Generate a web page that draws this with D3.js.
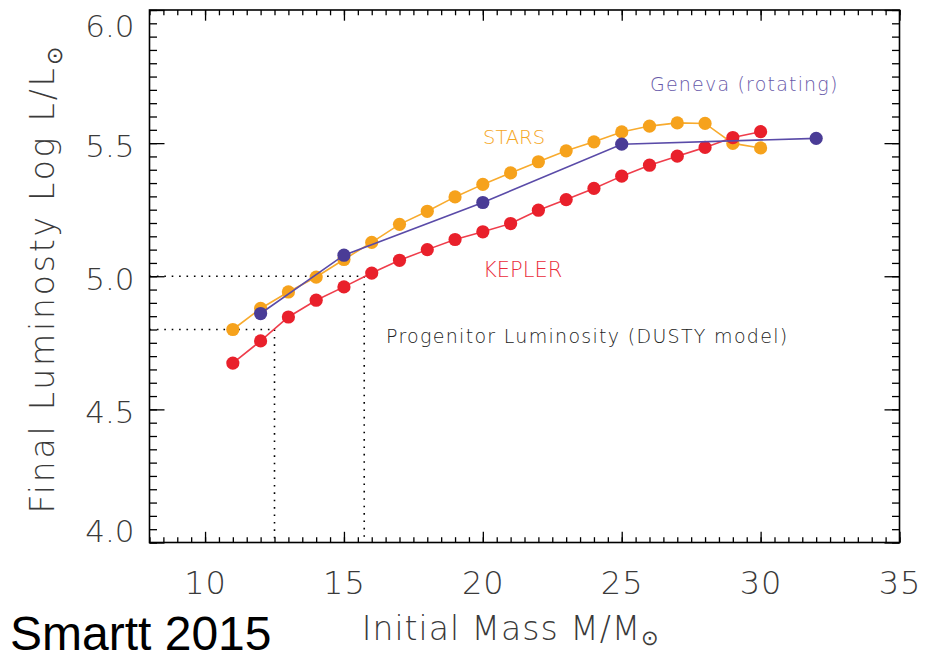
<!DOCTYPE html>
<html>
<head>
<meta charset="utf-8">
<script src="https://cdn.jsdelivr.net/npm/d3@7"></script>
<style>
  html, body { margin: 0; padding: 0; background: #fff; }
  svg { display: block; }
</style>
</head>
<body>
<svg id="chart" width="936" height="652"></svg>
<script>
// ---------- data ----------
const starsMass = [11,12,13,14,15,16,17,18,19,20,21,22,23,24,25,26,27,28,29,30];
const starsLum  = [4.800,4.879,4.941,4.997,5.063,5.127,5.195,5.244,5.298,5.345,5.388,5.430,5.471,5.505,5.542,5.564,5.576,5.574,5.499,5.482];

const keplerMass = [11,12,13,14,15,16,17,18,19,20,21,22,23,24,25,26,27,28,29,30];
const keplerLum  = [4.674,4.757,4.847,4.910,4.960,5.012,5.060,5.100,5.138,5.167,5.198,5.248,5.288,5.330,5.376,5.417,5.451,5.484,5.521,5.543];

const genevaMass = [12,15,20,25,32];
const genevaLum  = [4.860,5.079,5.277,5.496,5.518];

// progenitor luminosity guide lines (DUSTY model)
const guideLum  = [4.8, 5.0];
const guideMass = [12.5, 15.73];

const xTicks = [10,15,20,25,30,35];
const yTicks = [4.0,4.5,5.0,5.5,6.0];
const xMinor = d3.range(8, 35.001, 0.5);
const yMinor = d3.range(4.0, 6.0001, 0.05);

// ---------- layout ----------
const svg = d3.select("#chart");
const L = 149.5, R = 899.5, T = 10, B = 542.5;
const x = d3.scaleLinear().domain([8, 35]).range([L, R]);
const y = d3.scaleLinear().domain([4.0, 6.0]).range([B, T]);

const fontFam = '"DejaVu Sans", sans-serif';
const axisColor = "#000";
const textColor = "#3a3a3a";

svg.append("rect").attr("width", 936).attr("height", 652).attr("fill", "#fff");

// ---------- axes (inward ticks on all four sides) ----------
const xMajLen = 10.7, xMinLen = 5.3, yMajLen = 15, yMinLen = 7.5;

function styleAxis(g) {
  g.select(".domain").remove();
  g.selectAll(".tick line").attr("stroke", axisColor).attr("stroke-width", 1.3);
}

// bottom
svg.append("g").attr("transform", `translate(0,${B})`)
  .call(d3.axisBottom(x).tickValues(xMinor).tickSize(-xMinLen).tickFormat(""))
  .call(styleAxis);
const gxb = svg.append("g").attr("transform", `translate(0,${B})`)
  .call(d3.axisBottom(x).tickValues(xTicks).tickSize(-xMajLen).tickFormat(d3.format("d")))
  .call(styleAxis);
gxb.selectAll(".tick text")
  .attr("y", 51.5).attr("dy", null)
  .attr("font-family", fontFam).attr("font-weight", 200)
  .attr("font-size", 32).attr("letter-spacing", 1).attr("fill", textColor);

// top
svg.append("g").attr("transform", `translate(0,${T})`)
  .call(d3.axisTop(x).tickValues(xMinor).tickSize(-xMinLen).tickFormat(""))
  .call(styleAxis);
svg.append("g").attr("transform", `translate(0,${T})`)
  .call(d3.axisTop(x).tickValues(xTicks).tickSize(-xMajLen).tickFormat(""))
  .call(styleAxis);

// left
svg.append("g").attr("transform", `translate(${L},0)`)
  .call(d3.axisLeft(y).tickValues(yMinor).tickSize(-yMinLen).tickFormat(""))
  .call(styleAxis);
const gyl = svg.append("g").attr("transform", `translate(${L},0)`)
  .call(d3.axisLeft(y).tickValues(yTicks).tickSize(-yMajLen).tickFormat(d3.format(".1f")))
  .call(styleAxis);
// end labels sit inside the frame's vertical extent, as in the original
gyl.selectAll(".tick text")
  .attr("x", -15)
  .attr("y", d => (d >= 6.0 ? 15 : d <= 4.0 ? -12 : 2))
  .attr("dy", "0.36em")
  .attr("font-family", fontFam).attr("font-weight", 200)
  .attr("font-size", 31).attr("fill", textColor);

// right
svg.append("g").attr("transform", `translate(${R},0)`)
  .call(d3.axisRight(y).tickValues(yMinor).tickSize(-yMinLen).tickFormat(""))
  .call(styleAxis);
svg.append("g").attr("transform", `translate(${R},0)`)
  .call(d3.axisRight(y).tickValues(yTicks).tickSize(-yMajLen).tickFormat(""))
  .call(styleAxis);

// frame
svg.append("rect")
  .attr("x", L).attr("y", T).attr("width", R - L).attr("height", B - T)
  .attr("fill", "none").attr("stroke", axisColor).attr("stroke-width", 1.6);

// ---------- dotted guide lines ----------
const guides = svg.append("g")
  .attr("stroke", "#000").attr("stroke-width", 1.6)
  .attr("stroke-dasharray", "1.6,5.8").attr("fill", "none");
guideLum.forEach((lum, i) => {
  const m = guideMass[i];
  guides.append("line")
    .attr("x1", x(8)).attr("x2", x(m)).attr("y1", y(lum)).attr("y2", y(lum));
  guides.append("line")
    .attr("x1", x(m)).attr("x2", x(m)).attr("y1", y(lum)).attr("y2", y(4.0));
});

// ---------- series ----------
const line = d3.line().x(d => x(d[0])).y(d => y(d[1]));
function drawSeries(mass, lum, lineColor, dotColor) {
  const pts = mass.map((m, i) => [m, lum[i]]);
  svg.append("path").datum(pts)
    .attr("d", line).attr("fill", "none")
    .attr("stroke", lineColor).attr("stroke-width", 1.6);
  svg.append("g").selectAll("circle").data(pts).join("circle")
    .attr("cx", d => x(d[0])).attr("cy", d => y(d[1]))
    .attr("r", 6.6).attr("fill", dotColor);
}
drawSeries(starsMass, starsLum, "#f8ab2e", "#f6a21c");
drawSeries(keplerMass, keplerLum, "#ef3d4b", "#e9202b");
drawSeries(genevaMass, genevaLum, "#5a4ba8", "#4a3c96");

// ---------- in-plot labels ----------
function label(txt, xp, yp, size, color, spacing) {
  svg.append("text").attr("x", xp).attr("y", yp)
    .attr("font-family", fontFam).attr("font-weight", 200)
    .attr("font-size", size).attr("letter-spacing", spacing || 0)
    .attr("fill", color).text(txt);
}
label("STARS", 483, 144, 19.5, "#f5a623", 0);
label("KEPLER", 483, 277, 21, "#ea2c3b", 0);
label("Geneva (rotating)", 650, 91, 19, "#6657a8", 1.2);
label("Progenitor Luminosity (DUSTY model)", 386, 343, 19, "#222", 1.3);

// ---------- axis titles ----------
const xt = svg.append("text")
  .attr("x", 511).attr("y", 640).attr("text-anchor", "middle")
  .attr("font-family", fontFam).attr("font-weight", 200)
  .attr("font-size", 33).attr("letter-spacing", 1).attr("fill", textColor);
xt.append("tspan").text("Initial Mass M/M");
xt.append("tspan").attr("font-size", 21).attr("dy", 5).text("\u2299");

const yt = svg.append("text")
  .attr("transform", "translate(54,279) rotate(-90)")
  .attr("text-anchor", "middle")
  .attr("font-family", fontFam).attr("font-weight", 200)
  .attr("font-size", 33).attr("letter-spacing", 2.8).attr("fill", textColor);
yt.append("tspan").text("Final Luminosty Log L/L");
yt.append("tspan").attr("font-size", 22).attr("dy", 8).text("\u2299");

// ---------- citation ----------
svg.append("text").attr("x", 10).attr("y", 650)
  .attr("font-family", '"Liberation Sans", Arial, sans-serif')
  .attr("font-size", 48).attr("fill", "#000").text("Smartt 2015");
</script>
</body>
</html>
